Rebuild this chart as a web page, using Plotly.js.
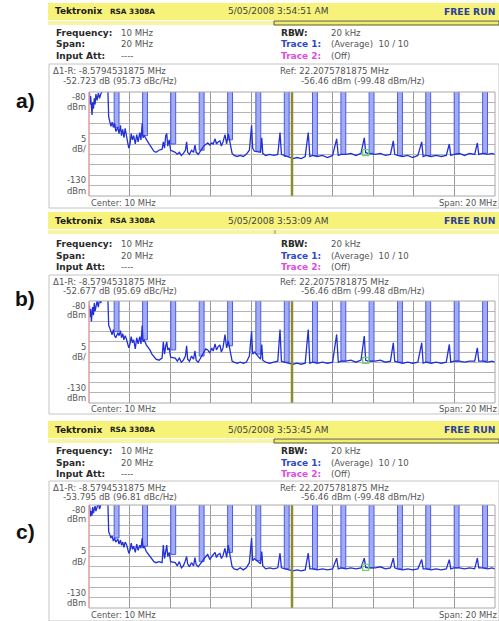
<!DOCTYPE html>
<html>
<head>
<meta charset="utf-8">
<script src="https://cdn.plot.ly/plotly-3.0.1.min.js"></script>
<style>html,body{margin:0;padding:0;background:#fff;}#chart{width:499px;height:621px;}</style>
</head>
<body>
<div id="chart"></div>
<script>
// ---------------- DATA ----------------
const centerFreqMHz = 10;
const spanMHz = 20;
const refLevelDbm = -80;
const bottomLevelDbm = -130;

const freqMHz = [0.02,0.05,0.08,0.12,0.15,0.18,0.22,0.26,0.30,0.34,0.40,0.46,0.52,0.58,0.64,0.72,0.85,0.93,0.97,1.03,1.08,1.14,1.20,1.26,1.32,1.42,1.48,1.55,1.60,1.66,1.72,1.78,1.84,1.90,1.96,2.02,2.08,2.14,2.20,2.28,2.35,2.42,2.50,2.56,2.62,2.66,2.72,2.82,2.90,3.00,3.10,3.20,3.30,3.45,3.60,3.66,3.72,3.78,3.83,3.88,3.95,4.02,4.25,4.35,4.45,4.55,4.65,4.75,4.81,4.86,4.95,5.05,5.15,5.22,5.28,5.38,5.65,5.75,5.85,5.95,6.05,6.12,6.21,6.28,6.36,6.45,6.52,6.60,6.70,6.78,6.86,7.05,7.15,7.30,7.45,7.60,7.75,7.90,8.01,8.06,8.15,8.45,8.51,8.56,8.70,8.90,9.10,9.30,9.41,9.48,9.62,9.85,10.05,10.25,10.45,10.65,10.80,10.88,11.00,11.25,11.50,11.75,12.00,12.20,12.28,12.42,12.65,12.90,13.15,13.40,13.56,13.63,13.75,14.10,14.35,14.60,14.85,14.99,15.06,15.20,15.45,15.70,15.95,16.20,16.39,16.46,16.60,16.85,17.10,17.35,17.60,17.75,17.82,17.98,18.25,18.50,18.75,19.00,19.13,19.20,19.38,19.65,19.85,20.00];

const levelA = [-80,-86,-82,-89,-91,-85,-88,-83,-86,-81,-84,-80.5,-83,-81,-79,-78,-78,-79,-92,-94,-96.5,-94.5,-97,-95,-99,-97,-100,-96,-101,-98,-102,-97.5,-100,-104,-107,-105,-100,-103,-101,-105,-100.5,-104,-99.5,-103,-95,-102,-101,-103,-104,-105.5,-107,-108.5,-109,-108,-107.5,-104,-107,-101,-100,-106,-103,-108,-109,-110,-109,-110.5,-109.5,-108,-104,-109,-110,-108,-109,-105.5,-109,-110,-106,-105,-104.5,-105.5,-104.5,-105,-102.5,-105,-104,-103.5,-106,-104,-100.5,-105,-100,-109.5,-110.5,-111,-110.5,-111,-110,-108,-96,-107,-108.5,-109,-102,-109.5,-110.5,-110,-110.5,-110,-99.5,-110,-110.5,-111.5,-112,-111.5,-112,-111,-99.5,-111,-110.5,-111,-110.5,-111.5,-110.5,-102.5,-110.5,-110,-110,-109.5,-110.5,-109.5,-102,-109.2,-109.5,-110,-109.5,-110.5,-110,-103.5,-110,-110.5,-111,-110.5,-111.5,-110.5,-104,-111,-110.5,-111,-110.5,-111,-110.5,-105,-110.5,-110,-109.5,-110.5,-109.5,-110,-104.5,-110,-109.5,-110,-109.5,-110];

const levelB = [-82,-88,-84,-90,-86,-83,-87,-81,-85,-82,-80,-83,-79,-81,-78,-78,-78,-79,-92,-93.5,-95,-96.5,-94,-97,-98,-95.5,-97,-94.5,-98,-96,-99,-97,-98.5,-101.5,-103,-101,-97.5,-100.5,-99,-103.5,-98,-101,-97.5,-101,-92,-100,-99,-101.5,-102.5,-104,-106,-107.5,-108.5,-109,-108,-100,-106,-102,-100,-104,-103,-107.5,-108,-109.5,-108,-110,-109,-107,-102,-108.5,-109.5,-107,-108.5,-104.5,-109,-110,-105,-103.5,-104,-105.5,-103,-104.5,-101,-104,-102.5,-101.5,-105,-103,-96.5,-103,-99.5,-109.5,-110,-110.5,-110,-110.5,-110,-107,-94.8,-106,-105,-108.5,-101.3,-109,-110,-110.5,-110,-109.5,-94,-109.5,-110,-110.5,-111,-110.5,-111,-110.5,-94,-110.5,-110,-110.5,-110,-110.5,-110,-96.4,-110,-109.5,-109.5,-109,-110,-109,-97.2,-109.1,-109.5,-109.5,-109,-110,-109.5,-100.5,-109.5,-110,-110.5,-110,-110.5,-110,-100.5,-110.5,-110,-110.5,-110,-110.5,-110,-101.3,-110,-109.5,-109.5,-110,-109.5,-109.5,-103,-109.5,-109.5,-110,-109.5,-110];

const levelC = [-80,-84,-85.5,-83,-85,-81,-84,-82,-80.5,-83,-81,-79,-82,-80,-78,-78,-78,-79,-93,-94.5,-96,-95,-97.5,-96,-98,-96.5,-99,-97,-99.5,-98,-100.5,-98,-99,-101,-103.5,-102,-98.5,-101.5,-100,-103,-99,-102,-99.5,-101,-96,-101,-100,-102.5,-103.5,-105,-106.5,-107.5,-108,-107.5,-108,-99.5,-106,-101,-99.5,-105,-103,-107.5,-108,-109.5,-107.5,-110.5,-109.5,-107,-105,-108.5,-110,-108,-109.5,-105.5,-109,-110,-106,-105,-104,-106.5,-105,-104,-103,-105.5,-104,-103.5,-106,-104.5,-101,-105.5,-99.5,-110,-111,-111.5,-110.5,-111.5,-110.5,-108,-96,-107,-106,-108.5,-102.6,-109.5,-111,-110.5,-111,-110.5,-103.4,-110.5,-111,-111.5,-112,-111.5,-112,-111.5,-103.4,-111,-111,-111.5,-111,-111.5,-111,-105.8,-111,-110.5,-111,-110.5,-111,-110.5,-105.8,-110.3,-110.5,-110.5,-110,-111,-110.5,-105.8,-110.5,-111,-111.5,-111,-111.5,-111,-106.5,-111,-111,-111.5,-111,-111.5,-111,-106.5,-111,-110.5,-110.5,-111,-110.5,-111,-105.8,-110.5,-110.5,-111,-110.5,-111];

// tall harmonic lines (go off the top of the screen)
const spikeFreqMHz = [1.36,2.76,4.15,5.55,6.95,8.34,9.74,11.13,12.53,13.92,15.32,16.71,18.11,19.51];
const spikeBaseA = [-97,-101,-105,-108,-103,-108.5,-111,-110.5,-110,-109.5,-110.5,-110.5,-110,-109.5];
const spikeBaseB = [-95,-99,-104,-107,-102,-106,-110,-110,-109.5,-109.5,-110,-110,-109.5,-109.5];
const spikeBaseC = [-96,-100,-104,-107.5,-103,-107,-111,-111,-110.5,-110.5,-111,-111,-110.5,-110.5];
const spikeTopDbm = -70;

const markerFreqMHz = 13.63;
const markerLevels = [-109.18, -109.14, -110.26];

const panelLabels = ['a)', 'b)', 'c)'];
const timestamps = ['5/05/2008 3:54:51 AM', '5/05/2008 3:53:09 AM', '5/05/2008 3:53:45 AM'];
const deltaLines = ['-52.723 dB (95.73 dBc/Hz)', '-52.677 dB (95.69 dBc/Hz)', '-53.795 dB (96.81 dBc/Hz)'];
const deltaFreqText = 'Δ1-R: -8.5794531875 MHz';
const refText = ['Ref: 22.2075781875 MHz', '-56.46 dBm (-99.48 dBm/Hz)'];
const yAxisLabels = [['-80', 'dBm'], ['5', 'dB/'], ['-130', 'dBm']];
const infoLeft = [['Frequency:', '10 MHz'], ['Span:', '20 MHz'], ['Input Att:', '----']];
const infoRight = [['RBW:', '20 kHz'], ['Trace 1:', '(Average)  10 / 10'], ['Trace 2:', '(Off)']];

// ---------------- LAYOUT GEOMETRY (pixels) ----------------
const W = 499, H = 621;
const px = x => x / W;
const py = y => 1 - y / H;
const G = [
  {hdr:[3,20], strip:[21,25], boxStrip:true, rows:[33,44.5,56], box:[64,208], delta:[71.5,80.5], plot:[92,196], center:202.5, label:100},
  {hdr:[212,229], strip:[230,234], boxStrip:false, rows:[244,255.5,267], box:[275,414], delta:[282,291], plot:[301,403], center:409, label:298},
  {hdr:[421,438], strip:[439,443], boxStrip:true, rows:[451,462.5,474], box:[481,621], delta:[487.5,496.5], plot:[505,608], center:615, label:531}
];
const PX0 = 89, PX1 = 495;
const FONT = 'DejaVu Sans';

const levels = [levelA, levelB, levelC];
const bases = [spikeBaseA, spikeBaseB, spikeBaseC];

const data = [];
const shapes = [];
const annotations = [];
const layout = {
  width: W, height: H,
  margin: {l:0, r:0, t:0, b:0},
  paper_bgcolor: '#ffffff', plot_bgcolor: '#ffffff',
  showlegend: false, barmode: 'overlay',
  font: {family: FONT, size: 8, color: '#333'}
};

function ann(x, y, text, opt) {
  opt = opt || {};
  annotations.push({
    xref: 'paper', yref: 'paper', x: px(x), y: py(y), text: text, showarrow: false,
    xanchor: opt.anchor || 'left', yanchor: 'middle', borderpad: 0,
    font: {family: opt.family || FONT, size: opt.size || 8, color: opt.color || '#3a3a3a'}
  });
}
function rect(x0, y0, x1, y1, fill, line, lw) {
  shapes.push({type:'rect', xref:'paper', yref:'paper', x0:px(x0), x1:px(x1), y0:py(y0), y1:py(y1),
    fillcolor: fill || 'rgba(0,0,0,0)', line:{color: line || 'rgba(0,0,0,0)', width: lw === undefined ? 1 : lw}, layer:'below'});
}

G.forEach((g, i) => {
  const n = i === 0 ? '' : String(i + 1);
  const xa = 'x' + n, ya = 'y' + n;
  layout['xaxis' + n] = {
    domain: [px(PX0), px(PX1)], range: [centerFreqMHz - spanMHz / 2, centerFreqMHz + spanMHz / 2],
    anchor: ya, dtick: spanMHz / 10, tick0: 0, showgrid: true, gridcolor: '#989898', gridwidth: 1,
    zeroline: false, showticklabels: false, ticks: '', showline: false, fixedrange: true
  };
  layout['yaxis' + n] = {
    domain: [py(g.plot[1]), py(g.plot[0])], range: [bottomLevelDbm, refLevelDbm],
    anchor: xa, dtick: 5, tick0: bottomLevelDbm, showgrid: true, gridcolor: '#b4b4b4', gridwidth: 1,
    zeroline: false, showticklabels: false, ticks: '', showline: false, fixedrange: true
  };

  // tall harmonic bands
  data.push({
    type: 'bar', x: spikeFreqMHz, base: bases[i], y: bases[i].map(b => spikeTopDbm - b),
    width: 0.24, xaxis: xa, yaxis: ya, hoverinfo: 'skip',
    marker: {color: '#a3abf2', line: {color: '#4b5be6', width: 1}}
  });
  // averaged trace
  data.push({
    type: 'scatter', mode: 'lines', x: freqMHz, y: levels[i], xaxis: xa, yaxis: ya,
    line: {color: '#2130d8', width: 1.3}, hoverinfo: 'skip'
  });
  // marker
  data.push({
    type: 'scatter', mode: 'markers', x: [markerFreqMHz], y: [markerLevels[i]], xaxis: xa, yaxis: ya,
    marker: {symbol: 'square-open', size: 6, color: '#6cd46c', line: {width: 1.3}}, hoverinfo: 'skip'
  });

  // centre (olive) line
  shapes.push({type:'line', xref: xa, yref: ya + ' domain', x0: centerFreqMHz, x1: centerFreqMHz, y0: 0, y1: 1,
    line: {color: '#8e8c2a', width: 2.5}, layer: 'above'});
  // plot border
  shapes.push({type:'rect', xref: xa + ' domain', yref: ya + ' domain', x0: 0, x1: 1, y0: 0, y1: 1,
    line: {color: '#a8a8a8', width: 1}, layer: 'above'});
  shapes.push({type:'line', xref: xa + ' domain', yref: ya + ' domain', x0: 0, x1: 0, y0: 0, y1: 1,
    line: {color: '#f2a0a0', width: 1.2}, layer: 'above'});

  // header bar
  rect(48, g.hdr[0], 499, g.hdr[1], '#f6f27a', null, 0);
  rect(48, g.strip[0], 499, g.strip[1], '#f7f4a6', null, 0);
  if (g.boxStrip) {
    rect(274, g.strip[0], 499, g.strip[1], '#f2ee6a', '#5a5828', 1);
  } else {
    shapes.push({type:'line', xref:'paper', yref:'paper', x0:px(275), x1:px(275), y0:py(g.strip[0]), y1:py(g.strip[1]),
      line:{color:'#8a8a60', width:1}});
  }
  const hy = (g.hdr[0] + g.hdr[1]) / 2;
  ann(54, hy, '<b>Tektronix</b>', {size: 9, color: '#1a1a1a'});
  ann(109, hy, '<b>RSA 3308A</b>', {size: 7.3, color: '#1a1a1a'});
  ann(227, hy, timestamps[i], {size: 9, color: '#444'});
  ann(496, hy, '<b>FREE RUN</b>', {size: 9.2, color: '#2a3c9c', anchor: 'right'});

  // info rows
  infoLeft.forEach((r, k) => {
    ann(55, g.rows[k], '<b>' + r[0] + '</b>', {size: 9, color: '#2a2a2a'});
    ann(120, g.rows[k], r[1], {size: 8.6, color: '#555'});
  });
  const rc = ['#2a2a2a', '#2f48c8', '#e04ce0'];
  infoRight.forEach((r, k) => {
    ann(280, g.rows[k], '<b>' + r[0] + '</b>', {size: 9, color: rc[k]});
    ann(330, g.rows[k], r[1], {size: 8.6, color: '#555'});
  });

  // box around the plot region
  rect(49, g.box[0], 499, g.box[1], null, '#c4c4c4', 1);
  ann(52, g.delta[0], deltaFreqText, {size: 8.6, color: '#555'});
  ann(62, g.delta[1], deltaLines[i], {size: 8.6, color: '#555'});
  ann(279, g.delta[0], refText[0], {size: 8.6, color: '#555'});
  ann(300, g.delta[1], refText[1], {size: 8.6, color: '#555'});

  // y labels
  const top = g.plot[0], bot = g.plot[1], h = bot - top;
  const ly = [[top + 0.05 * h, top + 0.14 * h], [top + 0.45 * h, top + 0.55 * h], [bot - 0.15 * h, bot - 0.05 * h]];
  yAxisLabels.forEach((lab, k) => {
    ann(87, ly[k][0], lab[0], {size: 8.4, color: '#555', anchor: 'right'});
    ann(87, ly[k][1], lab[1], {size: 8.4, color: '#555', anchor: 'right'});
  });
  ann(90, g.center, 'Center: ' + centerFreqMHz + ' MHz', {size: 8.4, color: '#555'});
  ann(498, g.center, 'Span: ' + spanMHz + ' MHz', {size: 8.4, color: '#555', anchor: 'right'});

  // panel label
  ann(25, g.label, '<b>' + panelLabels[i] + '</b>', {size: 21, color: '#111', anchor: 'center', family: 'Liberation Sans'});
});

layout.shapes = shapes;
layout.annotations = annotations;
Plotly.newPlot('chart', data, layout, {staticPlot: true, displayModeBar: false});
</script>
</body>
</html>
